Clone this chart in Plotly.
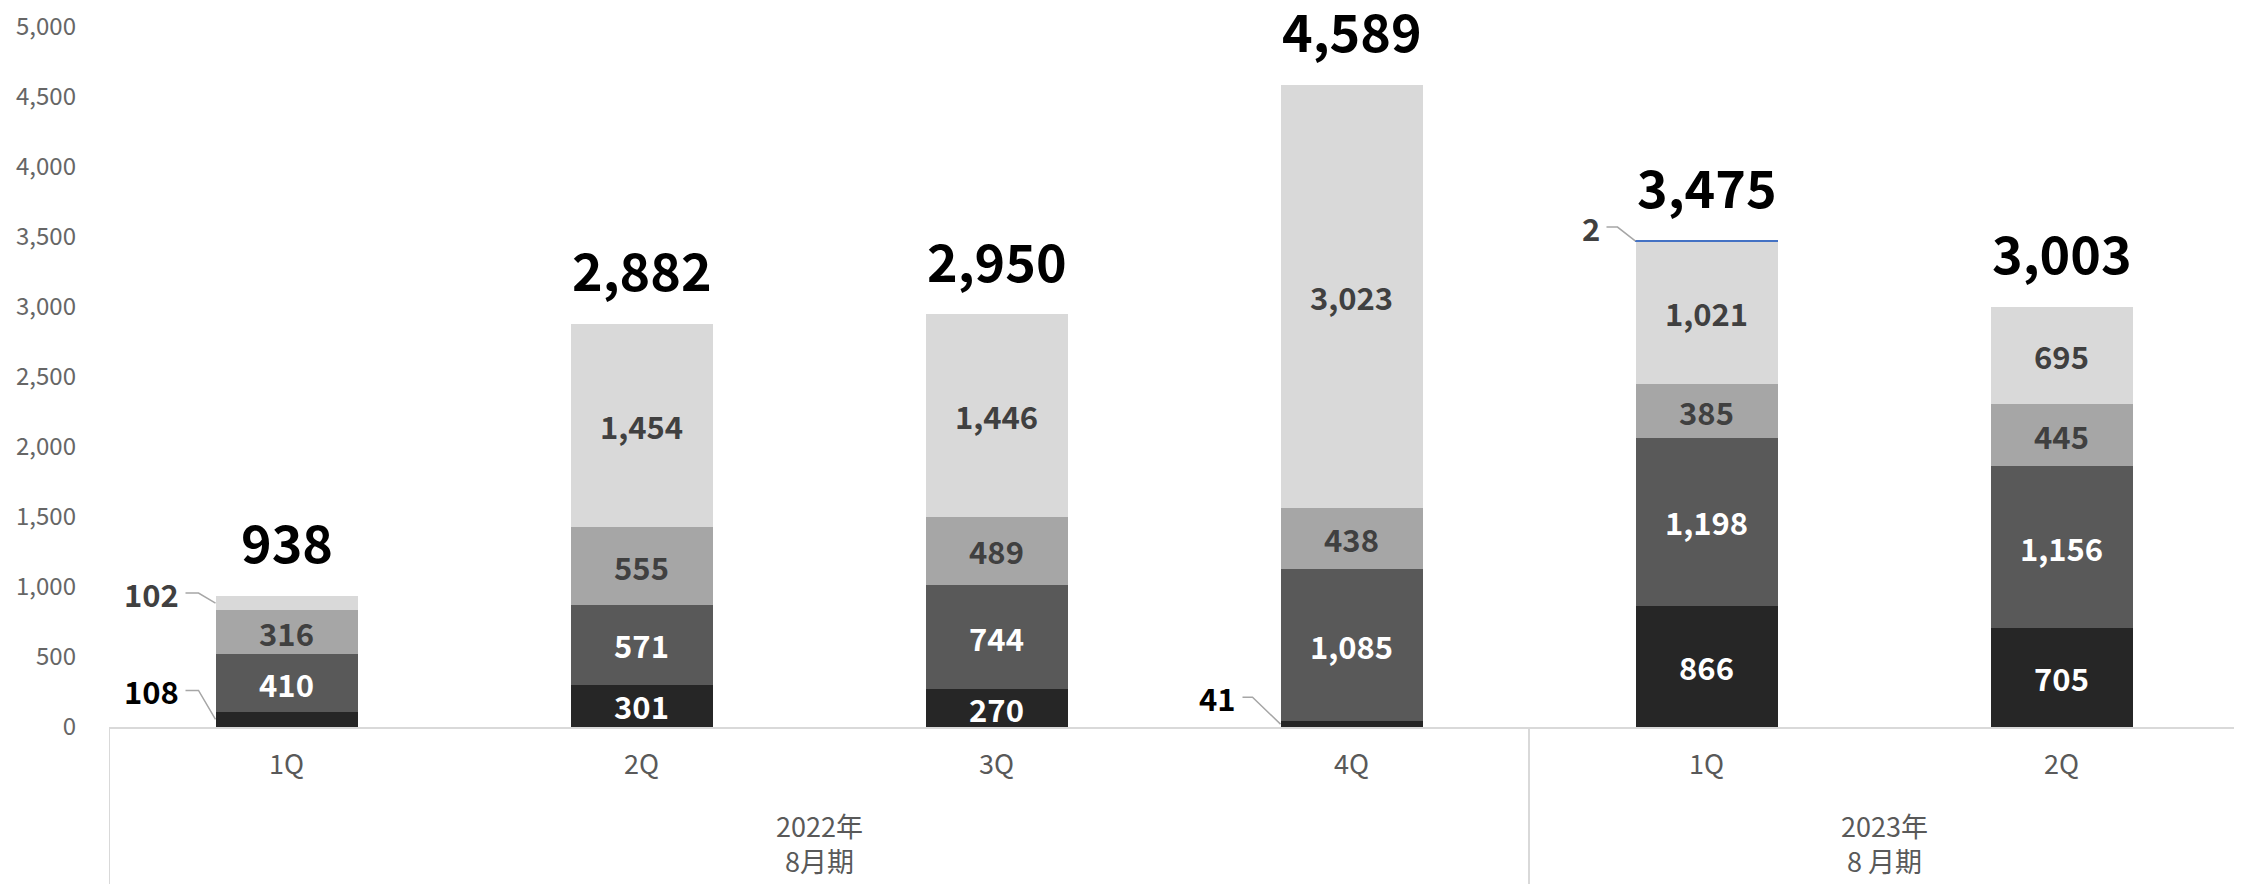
import plotly.graph_objects as go

# ---------------- data ----------------
quarters = ["1Q", "2Q", "3Q", "4Q", "1Q", "2Q"]
groups = ["2022年<br>8月期", "2023年<br>8 月期"]
group_sizes = [4, 2]

series1 = [108, 301, 270, 41, 866, 705]
series2 = [410, 571, 744, 1085, 1198, 1156]
series3 = [316, 555, 489, 438, 385, 445]
series4 = [102, 1454, 1446, 3023, 1021, 695]
series5 = [None, None, None, None, 2, None]
totals = [938, 2882, 2950, 4589, 3475, 3003]

y_ticks = [0, 500, 1000, 1500, 2000, 2500, 3000, 3500, 4000, 4500, 5000]

# ---------------- styling ----------------
FONT = "Noto Sans CJK JP"
series = [series1, series2, series3, series4, series5]
colors = ["#262626", "#595959", "#A6A6A6", "#D9D9D9", "#D9D9D9"]
text_colors = ["#FFFFFF", "#FFFFFF", "#404040", "#404040", "#404040"]
outside_label_colors = ["#000000", "#000000", "#404040", "#404040", "#404040"]
# (series index, category index, diag dx px, diag dy px, horizontal px)
outside_labels = [
    (0, 0, -17, 29, -13),
    (3, 0, -17, 10, -13),
    (0, 3, -28, 27, -10),
    (4, 4, -18, 14, -11),
]
outside_set = {(s, c) for s, c, *_ in outside_labels}

x = list(range(len(quarters)))
bar_width = 0.4

fig = go.Figure()
for si, vals in enumerate(series):
    texts = []
    for ci, v in enumerate(vals):
        if v is None or (si, ci) in outside_set:
            texts.append("")
        else:
            texts.append(f"{v:,}")
    fig.add_trace(go.Bar(
        x=x, y=vals, width=bar_width,
        marker=dict(color=colors[si],
                    line=dict(color="#4472C4" if si == 4 else colors[si],
                              width=1.5 if si == 4 else 0)),
        text=texts, textposition="inside", insidetextanchor="middle",
        constraintext="none", textangle=0,
        textfont=dict(family=FONT, size=31, color=text_colors[si], weight="bold"),
        hoverinfo="skip", showlegend=False,
    ))

annotations = []
shapes = []

# totals
for ci, t in enumerate(totals):
    stack_top = sum((s[ci] or 0) for s in series)
    annotations.append(dict(
        x=ci, y=stack_top, xref="x", yref="y", text=f"{t:,}",
        showarrow=False, yanchor="middle", yshift=55,
        font=dict(family=FONT, size=52, color="#000000", weight="bold"),
    ))

# outside labels with leader lines
for si, ci, dx, dy, hx in outside_labels:
    base = sum((series[k][ci] or 0) for k in range(si))
    mid = base + series[si][ci] / 2
    xa = ci - bar_width / 2
    shapes.append(dict(
        type="path", xref="x", yref="y", xsizemode="pixel", ysizemode="pixel",
        xanchor=xa, yanchor=mid,
        path=f"M 0 0 L {dx} {dy} L {dx + hx} {dy}",
        line=dict(color="#A6A6A6", width=1.5),
    ))
    annotations.append(dict(
        x=xa, y=mid, xref="x", yref="y", text=f"{series[si][ci]:,}",
        showarrow=False, xanchor="right", yanchor="middle",
        xshift=dx + hx - 5, yshift=dy,
        font=dict(family=FONT, size=31, color=outside_label_colors[si], weight="bold"),
    ))

# group labels and dividers
start = 0
bounds = [-0.5]
for g, n in zip(groups, group_sizes):
    center = start + (n - 1) / 2
    annotations.append(dict(
        x=center, y=-0.166, xref="x", yref="paper", text=g, showarrow=False,
        yanchor="middle", align="center",
        font=dict(family=FONT, size=27, color="#595959"),
    ))
    start += n
    bounds.append(start - 0.5)
for b in bounds:
    shapes.append(dict(type="line", xref="x", yref="paper", x0=b, x1=b, y0=0, y1=-0.4,
                       line=dict(color="#D9D9D9", width=2)))

fig.update_layout(
    width=2234, height=876,
    margin=dict(l=101, r=3, t=19, b=157),
    barmode="stack", bargap=0.6,
    plot_bgcolor="white", paper_bgcolor="white",
    annotations=annotations, shapes=shapes,
    xaxis=dict(
        range=[-0.5, len(quarters) - 0.5], tickvals=x, ticktext=quarters,
        showline=True, linecolor="#D9D9D9", linewidth=2, showgrid=False, zeroline=False,
        ticks="", ticklabelstandoff=13, automargin=False,
        tickfont=dict(family=FONT, size=27, color="#595959"),
    ),
    yaxis=dict(
        range=[0, 5000.5], tickvals=y_ticks, tickformat=",",
        showgrid=False, zeroline=False, showline=False, ticks="",
        ticklabelstandoff=32, automargin=False, ticklabeloverflow="allow",
        tickfont=dict(family=FONT, size=24, color="#666666"),
    ),
)

fig.write_html("out.html")
